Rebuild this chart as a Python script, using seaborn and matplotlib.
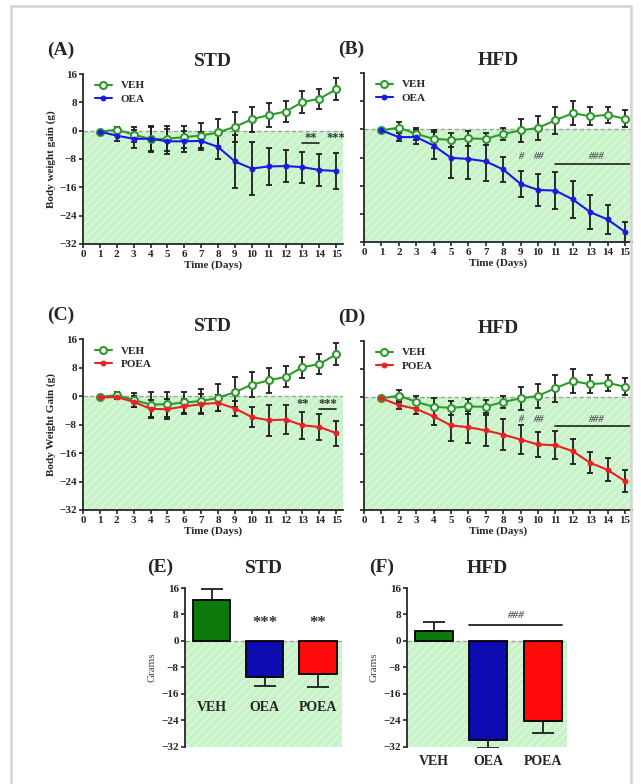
import numpy as np
import pandas as pd
import matplotlib
matplotlib.use("Agg")
import matplotlib.pyplot as plt
from matplotlib.lines import Line2D
import seaborn as sns

sns.set_style("ticks")
plt.rcParams['font.family'] = ['Liberation Serif', 'DejaVu Serif']
plt.rcParams['font.weight'] = 'bold'
plt.rcParams['hatch.linewidth'] = 0.8

# data
days = list(range(1, 16))

veh_std = [-0.3, 0.3, -1.1, -2.4, -2.3, -1.8, -1.4, -0.5, 1.1, 3.2, 4.4, 5.4, 8.1, 9.0, 11.7]
veh_std_err = [0.3, 0.8, 2.0, 3.5, 3.5, 3.0, 3.5, 3.8, 4.2, 3.6, 3.5, 2.9, 3.0, 2.8, 3.1]
oea_std = [-0.3, -1.4, -2.3, -2.3, -3.0, -3.0, -2.9, -4.6, -8.7, -10.7, -10.1, -10.0, -10.3, -11.1, -11.4]
oea_std_err = [0.3, 1.5, 2.5, 3.5, 3.5, 3.0, 2.5, 3.5, 7.5, 7.5, 5.2, 4.5, 4.4, 4.5, 5.0]
poea_std = [-0.4, -0.3, -1.6, -3.6, -3.7, -2.9, -2.3, -1.9, -3.5, -5.9, -6.8, -6.6, -8.2, -8.7, -10.4]
poea_std_err = [0.3, 0.6, 1.5, 2.5, 2.8, 2.2, 2.8, 2.2, 2.0, 2.9, 4.3, 4.1, 3.8, 3.6, 3.5]

veh_hfd = [-0.3, 0.5, -1.3, -2.7, -3.0, -2.6, -2.7, -1.3, -0.3, 0.4, 2.6, 4.6, 3.7, 4.1, 3.0]
veh_hfd_err = [0.3, 1.5, 1.8, 2.5, 2.0, 2.0, 1.8, 1.8, 3.3, 3.3, 3.8, 3.4, 2.6, 2.2, 2.4]
oea_hfd = [-0.3, -2.2, -2.2, -4.6, -8.1, -8.4, -9.1, -11.4, -15.5, -17.2, -17.4, -19.9, -23.5, -25.6, -29.1]
oea_hfd_err = [0.3, 1.2, 2.0, 3.9, 5.7, 5.7, 5.7, 3.5, 3.7, 4.6, 5.3, 5.3, 4.8, 4.2, 2.9]
poea_hfd = [-0.3, -2.2, -3.3, -5.4, -8.0, -8.5, -9.4, -10.6, -12.0, -13.4, -13.6, -15.3, -18.6, -20.6, -23.8]
poea_hfd_err = [0.3, 1.0, 1.5, 2.5, 4.5, 4.5, 4.5, 4.5, 4.0, 3.5, 4.0, 3.5, 3.0, 3.3, 3.2]

groups = ['VEH', 'OEA', 'POEA']
bar_std = [12.3, -11.0, -10.0]
bar_std_err = [3.4, 2.6, 3.8]
bar_hfd = [3.0, -29.8, -24.3]
bar_hfd_err = [2.6, 2.5, 3.4]

yticks = [16, 8, 0, -8, -16, -24, -32]

GREEN_LINE = '#2e9a2e'
BLUE = '#1a1ae0'
RED = '#e82222'
FILL = '#c8f3c8'
HATCH = '#e2fae2'
BAR_COLORS = ['#0b7a0b', '#0c0cb0', '#ff0a0a']

fig = plt.figure(figsize=(6.41, 7.84), dpi=100)

# light grey frame around the figure
fig.add_artist(Line2D([0.017, 0.017], [0.0, 0.992], color='#d4d4d4', lw=1.8))
fig.add_artist(Line2D([0.017, 0.984], [0.992, 0.992], color='#d4d4d4', lw=1.8))
fig.add_artist(Line2D([0.984, 0.984], [0.0, 0.992], color='#d4d4d4', lw=1.8))


def line_panel(rect, veh, veh_err, trt, trt_err, trt_name, trt_color, letter, title, ylabel):
    ax = fig.add_axes(rect)
    ax.axhspan(-32, 0, facecolor=FILL, edgecolor=HATCH, hatch='////', lw=0, zorder=0)
    ax.axhline(0, color='#a0a0a0', ls=(0, (3, 2)), lw=1, zorder=1)
    ax.errorbar(days, veh, yerr=veh_err, fmt='none', ecolor='#1e1e1e',
                elinewidth=1.3, capsize=2.5, capthick=1.3, zorder=2)
    ax.errorbar(days, trt, yerr=trt_err, fmt='none', ecolor='#1e1e1e',
                elinewidth=1.3, capsize=2.5, capthick=1.3, zorder=2)
    df = pd.DataFrame({'day': days + days,
                       'gain': veh + trt,
                       'group': ['VEH'] * len(days) + [trt_name] * len(days)})
    sns.lineplot(data=df[df.group == 'VEH'], x='day', y='gain', ax=ax, color=GREEN_LINE,
                 marker='o', markersize=5, markerfacecolor='white', markeredgecolor=GREEN_LINE,
                 markeredgewidth=1.5, lw=1.5, label='VEH', zorder=3)
    sns.lineplot(data=df[df.group == trt_name], x='day', y='gain', ax=ax, color=trt_color,
                 marker='o', markersize=3.5, markeredgecolor=trt_color,
                 lw=1.5, label=trt_name, zorder=3)
    ax.set_xlim(0, 15.4)
    ax.set_ylim(-32, 16)
    ax.set_xticks(range(0, 16))
    ax.set_yticks(yticks)
    ax.tick_params(labelsize=8, length=3, width=1.2, pad=1.5)
    for lab in ax.get_xticklabels() + ax.get_yticklabels():
        lab.set_fontweight('bold')
    if ylabel:
        ax.set_ylabel(ylabel, fontsize=8, fontweight='bold', labelpad=2)
    else:
        ax.set_ylabel('')
        ax.set_yticklabels([])
    ax.set_xlabel('Time (Days)', fontsize=8, fontweight='bold', labelpad=1)
    for s in ['top', 'right']:
        ax.spines[s].set_visible(False)
    for s in ['left', 'bottom']:
        ax.spines[s].set_linewidth(1.3)
    ax.legend(loc='upper left', frameon=False, fontsize=8, handlelength=1.5,
              borderaxespad=0.2, labelspacing=0.3, bbox_to_anchor=(0.02, 1.0))
    ax.set_title(title, fontsize=14, fontweight='bold', pad=6)
    lx = -0.138 if ylabel else -0.097
    ax.text(lx, 1.11, letter, transform=ax.transAxes, fontsize=14, fontweight='bold')
    return ax


axA = line_panel([0.1295, 0.6888, 0.4056, 0.2168], veh_std, veh_std_err, oea_std, oea_std_err,
                 'OEA', BLUE, '(A)', 'STD', 'Body weight gain (g)')
axA.plot([days[12], days[13]], [-3.6, -3.6], color='#222222', lw=1.2)
axA.text((days[12] + days[13]) / 2, -3.0, '**', ha='center', fontsize=9, color='#333333')
axA.text(days[14], -3.0, '***', ha='center', fontsize=9, color='#333333')

axB = line_panel([0.5679, 0.6913, 0.418, 0.2156], veh_hfd, veh_hfd_err, oea_hfd, oea_hfd_err,
                 'OEA', BLUE, '(B)', 'HFD', None)
axB.text(days[8], -8.5, '#', ha='center', fontsize=7.5, color='#555555', style='italic')
axB.text(days[9], -8.5, '##', ha='center', fontsize=7.5, color='#555555', style='italic')
axB.plot([days[10], days[14] + 0.3], [-9.8, -9.8], color='#222222', lw=1.2)
axB.text((days[10] + days[14]) / 2 + 0.3, -8.5, '###', ha='center', fontsize=7.5,
         color='#555555', style='italic')

axC = line_panel([0.1295, 0.3495, 0.4056, 0.218], veh_std, veh_std_err, poea_std, poea_std_err,
                 'POEA', RED, '(C)', 'STD', 'Body Weight Gain (g)')
axC.text(days[12], -3.0, '**', ha='center', fontsize=9, color='#333333')
axC.plot([days[13], days[14]], [-3.6, -3.6], color='#222222', lw=1.2)
axC.text((days[13] + days[14]) / 2, -3.0, '***', ha='center', fontsize=9, color='#333333')

axD = line_panel([0.5679, 0.3495, 0.418, 0.2156], veh_hfd, veh_hfd_err, poea_hfd, poea_hfd_err,
                 'POEA', RED, '(D)', 'HFD', None)
axD.text(days[8], -6.9, '#', ha='center', fontsize=7.5, color='#555555', style='italic')
axD.text(days[9], -6.9, '##', ha='center', fontsize=7.5, color='#555555', style='italic')
axD.plot([days[10], days[14] + 0.3], [-8.2, -8.2], color='#222222', lw=1.2)
axD.text((days[10] + days[14]) / 2 + 0.3, -6.9, '###', ha='center', fontsize=7.5,
         color='#555555', style='italic')


def bar_panel(rect, vals, errs, letter, title, labels_inside):
    ax = fig.add_axes(rect)
    ax.axhspan(-32, 0, facecolor=FILL, edgecolor=HATCH, hatch='////', lw=0, zorder=0)
    ax.axhline(0, color='#a0a0a0', ls=(0, (3, 2)), lw=1, zorder=1)
    df = pd.DataFrame({'group': groups, 'gain': vals})
    sns.barplot(data=df, x='group', y='gain', hue='group', palette=BAR_COLORS, legend=False,
                saturation=1, width=0.7, edgecolor='black', linewidth=1.3, ax=ax, zorder=3)
    lower = [0 if v > 0 else e for v, e in zip(vals, errs)]
    upper = [e if v > 0 else 0 for v, e in zip(vals, errs)]
    ax.errorbar(range(len(groups)), vals, yerr=[lower, upper], fmt='none', ecolor='#1e1e1e',
                elinewidth=1.3, capsize=8, capthick=1.3, zorder=2)
    ax.set_xlim(-0.5, 2.45)
    ax.set_ylim(-32, 16)
    ax.set_yticks(yticks)
    ax.tick_params(axis='y', labelsize=8, length=3, width=1.2, pad=1.5)
    for lab in ax.get_yticklabels():
        lab.set_fontweight('bold')
    ax.set_ylabel('Grams', fontsize=8, fontweight='normal', color='#444444', labelpad=3)
    ax.set_xlabel('')
    for s in ['top', 'right', 'bottom']:
        ax.spines[s].set_visible(False)
    ax.spines['left'].set_linewidth(1.3)
    if labels_inside:
        ax.set_xticks([])
        for i, g in enumerate(groups):
            ax.text(i, -20, g, ha='center', va='center', fontsize=10, fontweight='bold')
    else:
        ax.set_xticks(range(len(groups)))
        ax.set_xticklabels(groups, fontsize=10, fontweight='bold')
        ax.tick_params(axis='x', length=0, pad=6)
    ax.set_title(title, fontsize=14, fontweight='bold', pad=11)
    ax.text(-0.24, 1.1, letter, transform=ax.transAxes, fontsize=14, fontweight='bold')
    return ax


axE = bar_panel([0.2886, 0.0472, 0.2449, 0.2028], bar_std, bar_std_err, '(E)', 'STD', True)
axE.text(1, 4.2, '***', ha='center', fontsize=12, color='#333333')
axE.text(2, 4.2, '**', ha='center', fontsize=12, color='#333333')

axF = bar_panel([0.635, 0.0472, 0.2496, 0.2028], bar_hfd, bar_hfd_err, '(F)', 'HFD', False)
axF.plot([0.65, 2.35], [4.8, 4.8], color='#222222', lw=1.3)
axF.text(1.5, 6.8, '###', ha='center', fontsize=8, color='#555555', style='italic')

fig.savefig('out.png', dpi=100)
